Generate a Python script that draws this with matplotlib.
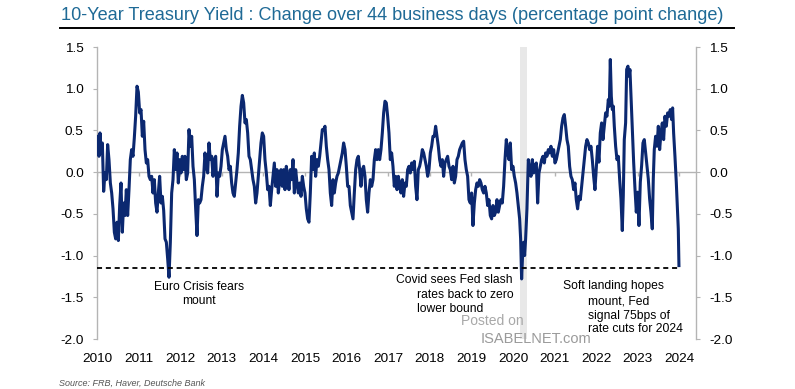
import matplotlib
matplotlib.use("Agg")
import matplotlib.pyplot as plt
from matplotlib.lines import Line2D

plt.rcParams["font.family"] = ["Liberation Sans", "DejaVu Sans"]

TITLE = "10-Year Treasury Yield : Change over 44 business days (percentage point change)"
SOURCE = "Source: FRB, Haver, Deutsche Bank"

# decimal year, 44-business-day change in the 10y yield (pp)
years = [
    2010.016, 2010.048, 2010.072, 2010.096, 2010.128, 2010.160, 2010.192, 2010.224, 2010.256, 2010.288,
    2010.321, 2010.353, 2010.385, 2010.417, 2010.449, 2010.481, 2010.513, 2010.545, 2010.577, 2010.609,
    2010.641, 2010.673, 2010.705, 2010.737, 2010.769, 2010.801, 2010.833, 2010.865, 2010.897, 2010.929,
    2010.962, 2010.994, 2011.026, 2011.058, 2011.090, 2011.122, 2011.154, 2011.186, 2011.218, 2011.250,
    2011.282, 2011.314, 2011.346, 2011.378, 2011.410, 2011.442, 2011.474, 2011.506, 2011.538, 2011.571,
    2011.603, 2011.635, 2011.667, 2011.699, 2011.731, 2011.763, 2011.795, 2011.827, 2011.859, 2011.891,
    2011.923, 2011.955, 2011.987, 2012.019, 2012.051, 2012.083, 2012.115, 2012.147, 2012.179, 2012.212,
    2012.244, 2012.276, 2012.308, 2012.340, 2012.372, 2012.404, 2012.436,
    2012.468, 2012.500, 2012.532, 2012.564, 2012.596, 2012.628, 2012.660, 2012.692, 2012.724, 2012.757,
    2012.789, 2012.821, 2012.853, 2012.885, 2012.917, 2012.949, 2012.981, 2013.013, 2013.045, 2013.077,
    2013.109, 2013.141, 2013.173, 2013.205, 2013.237, 2013.269, 2013.301, 2013.333, 2013.365, 2013.397,
    2013.429, 2013.462, 2013.494, 2013.526, 2013.558, 2013.590, 2013.622, 2013.654, 2013.686, 2013.718,
    2013.750, 2013.782, 2013.814, 2013.846, 2013.878, 2013.910, 2013.942, 2013.974, 2014.006, 2014.038,
    2014.071, 2014.103, 2014.135, 2014.167, 2014.199, 2014.231, 2014.263, 2014.295, 2014.327, 2014.359,
    2014.391, 2014.423, 2014.455, 2014.487, 2014.519, 2014.551, 2014.583, 2014.615, 2014.647, 2014.679,
    2014.712, 2014.744, 2014.776, 2014.808, 2014.840,
    2014.872, 2014.904, 2014.936, 2014.968, 2015.000, 2015.032, 2015.064, 2015.096, 2015.128, 2015.160,
    2015.192, 2015.224, 2015.256, 2015.288, 2015.321, 2015.353, 2015.385, 2015.417, 2015.449, 2015.481,
    2015.513, 2015.545, 2015.577, 2015.609, 2015.641, 2015.673, 2015.705, 2015.737, 2015.769, 2015.801,
    2015.833, 2015.865, 2015.897, 2015.929, 2015.962, 2015.994, 2016.026, 2016.058, 2016.090, 2016.122,
    2016.154, 2016.186, 2016.218, 2016.250, 2016.282, 2016.314, 2016.346, 2016.378, 2016.410, 2016.442,
    2016.474, 2016.506, 2016.538, 2016.571, 2016.603, 2016.635, 2016.667, 2016.699, 2016.731, 2016.763,
    2016.795, 2016.827, 2016.859, 2016.891, 2016.923, 2016.955, 2016.987, 2017.019, 2017.051, 2017.083,
    2017.115, 2017.147, 2017.179, 2017.212, 2017.244,
    2017.275, 2017.307, 2017.339, 2017.371, 2017.404, 2017.436, 2017.468, 2017.500, 2017.532, 2017.564,
    2017.596, 2017.628, 2017.660, 2017.692, 2017.724, 2017.756, 2017.788, 2017.821, 2017.853, 2017.885,
    2017.917, 2017.949, 2017.981, 2018.013, 2018.045, 2018.077, 2018.109, 2018.141, 2018.173, 2018.205,
    2018.237, 2018.269, 2018.301, 2018.333, 2018.365, 2018.397, 2018.429, 2018.462, 2018.494, 2018.526,
    2018.558, 2018.590, 2018.622, 2018.654, 2018.686, 2018.718, 2018.750, 2018.782, 2018.814, 2018.846,
    2018.878, 2018.910, 2018.942, 2018.974, 2019.006, 2019.038, 2019.071, 2019.103, 2019.135, 2019.167,
    2019.199, 2019.231, 2019.263, 2019.295, 2019.327, 2019.359, 2019.391, 2019.423, 2019.455, 2019.487,
    2019.519, 2019.551, 2019.583, 2019.615, 2019.647, 2019.679,
    2019.711, 2019.743, 2019.775, 2019.808, 2019.840, 2019.872, 2019.904, 2019.936, 2019.968, 2020.000,
    2020.032, 2020.064, 2020.096, 2020.128, 2020.160, 2020.184, 2020.208, 2020.234, 2020.256, 2020.280,
    2020.304, 2020.336, 2020.369, 2020.401, 2020.433, 2020.465, 2020.497, 2020.529, 2020.561, 2020.593,
    2020.625, 2020.657, 2020.689, 2020.721, 2020.753, 2020.785, 2020.817, 2020.849, 2020.881, 2020.913,
    2020.946, 2020.978, 2021.010, 2021.042, 2021.074, 2021.106, 2021.138, 2021.170, 2021.202, 2021.234,
    2021.266, 2021.298, 2021.330, 2021.362, 2021.394, 2021.426, 2021.458, 2021.490, 2021.522, 2021.554,
    2021.587, 2021.619, 2021.651, 2021.683, 2021.715, 2021.747, 2021.779, 2021.811, 2021.843, 2021.875,
    2021.907, 2021.939, 2021.971,
    2022.003, 2022.035, 2022.067, 2022.099, 2022.131, 2022.163, 2022.195, 2022.227, 2022.259, 2022.292,
    2022.316, 2022.340, 2022.364, 2022.388, 2022.412, 2022.436, 2022.468, 2022.500, 2022.532, 2022.564,
    2022.596, 2022.628, 2022.652, 2022.676, 2022.708, 2022.733, 2022.764, 2022.788, 2022.812, 2022.837,
    2022.869, 2022.901, 2022.933, 2022.965, 2022.997, 2023.029, 2023.061, 2023.093, 2023.125, 2023.157,
    2023.189, 2023.221, 2023.253, 2023.285, 2023.317, 2023.349, 2023.373, 2023.397, 2023.429, 2023.462,
    2023.494, 2023.526, 2023.558, 2023.590, 2023.622, 2023.654, 2023.686, 2023.718, 2023.750, 2023.782,
    2023.814, 2023.838, 2023.862, 2023.894, 2023.926, 2023.950, 2023.974, 2023.990,
]
change = [
    0.43, 0.19, 0.47, 0.23, 0.35, -0.23, -0.01, -0.09, 0.33, 0.15,
    -0.13, -0.25, -0.44, -0.72, -0.80, -0.60, -0.82, -0.40, -0.13, -0.72,
    -0.37, -0.52, -0.21, -0.52, -0.21, 0.15, 0.27, 0.19, 0.41, 0.67,
    1.03, 0.96, 0.71, 0.75, 0.43, 0.61, 0.27, 0.11, 0.15, -0.05,
    -0.09, -0.05, -0.25, -0.09, -0.37, -0.48, -0.25, -0.05, -0.37, -0.29,
    -0.46, -0.80, -0.84, -1.04, -1.26, -0.84, -0.25, -0.09, 0.27, 0.03,
    0.23, -0.13, 0.15, -0.01, 0.19, 0.03, 0.19, -0.09, -0.01, 0.51,
    0.31, 0.43, 0.07, -0.09, -0.44, -0.76, -0.33,
    -0.37, -0.33, -0.17, -0.05, 0.23, 0.07, -0.01, 0.35, 0.15, 0.19,
    -0.05, 0.15, 0.19, -0.29, -0.01, -0.05, 0.07, 0.27, 0.35, 0.43,
    0.27, 0.19, 0.03, 0.07, -0.13, -0.25, -0.29, -0.13, 0.03, 0.23,
    0.55, 0.79, 0.92, 0.83, 0.59, 0.63, 0.47, 0.19, 0.15, 0.03,
    -0.09, -0.17, -0.37, -0.25, -0.05, 0.15, 0.35, 0.47, 0.43, 0.15,
    -0.01, -0.21, -0.17, -0.40, -0.21, -0.05, 0.11, -0.17, 0.03, -0.25,
    -0.09, 0.03, -0.17, 0.03, -0.21, 0.07, -0.05, -0.21, 0.03, -0.09,
    0.15, -0.25, 0.03, -0.13, -0.25,
    -0.13, -0.29, -0.05, -0.17, -0.25, -0.44, -0.56, -0.60, -0.25, 0.19,
    0.03, 0.23, -0.05, 0.15, 0.07, 0.19, 0.35, 0.51, 0.51, 0.55,
    0.31, 0.15, 0.03, -0.25, -0.40, -0.09, -0.25, -0.13, -0.05, -0.01,
    0.07, 0.15, 0.23, 0.35, 0.27, 0.07, -0.17, -0.17, -0.40, -0.48,
    -0.56, -0.25, 0.03, 0.15, 0.19, 0.03, -0.17, 0.03, 0.07, -0.05,
    -0.33, -0.48, -0.25, -0.09, -0.17, -0.09, 0.15, 0.27, 0.15, 0.27,
    0.15, 0.27, 0.47, 0.71, 0.85, 0.83, 0.67, 0.47, 0.15, 0.23,
    0.07, -0.17, -0.05, -0.21, -0.05,
    -0.17, -0.25, -0.09, -0.29, -0.13, -0.17, 0.03, 0.07, -0.01, 0.11,
    0.03, 0.13, -0.17, -0.33, 0.03, 0.07, 0.15, 0.27, 0.23, 0.15,
    0.07, -0.05, 0.03, 0.23, 0.31, 0.43, 0.43, 0.55, 0.43, 0.31,
    0.15, 0.07, 0.15, -0.05, 0.11, 0.15, 0.19, 0.07, 0.03, -0.09,
    0.07, -0.13, -0.05, 0.15, 0.19, 0.27, 0.31, 0.35, 0.37, 0.15,
    0.03, -0.05, -0.33, -0.37, -0.25, -0.64, -0.37, -0.21, -0.13, -0.17,
    -0.09, -0.13, -0.21, -0.25, -0.17, -0.25, -0.40, -0.33, -0.52, -0.56,
    -0.40, -0.52, -0.48, -0.33, -0.48, -0.40,
    -0.33, -0.37, -0.17, 0.15, 0.39, 0.23, 0.15, 0.35, 0.03, 0.07,
    -0.05, -0.13, -0.25, -0.40, -0.56, -0.80, -1.28, -0.96, -0.84, -1.00,
    -0.80, -0.44, 0.15, 0.03, -0.05, 0.15, -0.01, 0.07, 0.11, -0.37,
    -0.01, 0.07, 0.15, 0.19, 0.11, 0.23, 0.19, 0.27, 0.23, 0.31,
    0.19, 0.27, 0.11, 0.15, 0.23, 0.31, 0.39, 0.55, 0.65, 0.69,
    0.55, 0.39, 0.31, 0.07, -0.05, -0.09, -0.21, -0.13, -0.33, -0.44,
    -0.29, -0.33, -0.17, -0.01, 0.15, 0.31, 0.39, 0.35, 0.27, 0.31,
    0.15, -0.05, -0.21,
    0.04, 0.31, 0.12, 0.47, 0.59, 0.39, 0.55, 0.71, 0.67, 0.87,
    0.79, 1.35, 0.91, 0.75, 0.79, 0.55, 0.31, 0.15, 0.19, -0.08,
    -0.32, -0.70, -0.28, 0.39, 0.59, 1.23, 1.27, 1.15, 1.23, 0.91,
    0.47, 0.12, -0.20, -0.48, -0.24, -0.64, -0.12, 0.08, 0.35, 0.39,
    0.23, 0.08, -0.08, -0.32, -0.48, -0.68, -0.08, 0.27, 0.43, 0.31,
    0.55, 0.27, 0.47, 0.59, 0.39, 0.67, 0.55, 0.71, 0.67, 0.75,
    0.63, 0.77, 0.47, 0.19, -0.12, -0.40, -0.68, -1.12,
]

year_ticks = list(range(2010, 2025))
y_ticks = [-2.0, -1.5, -1.0, -0.5, 0.0, 0.5, 1.0, 1.5]
covid_span = (2020.18, 2020.33)
threshold = -1.15
threshold_end = 2023.98

W, H = 795, 389
fig = plt.figure(figsize=(W / 100, H / 100), dpi=100, facecolor="white")
ax = fig.add_axes([97 / W, 1 - 339 / H, 599 / W, 292 / H])
ax.set_xlim(2010, 2024.40)
ax.set_ylim(-2.0, 1.5)

grey = "#b4b4b4"
ax.axvspan(*covid_span, color="#e8e8e8", lw=0, zorder=0)
ax.axhline(0, color=grey, lw=1, zorder=1)
ax.vlines(year_ticks, -0.05, 0, color=grey, lw=1, zorder=1)
ax.plot(years, change, color="#0b2870", lw=2.2, zorder=3)
ax.hlines(threshold, 2010, threshold_end, colors="black", linestyles=(0, (2.8, 2.1)), lw=1.3, zorder=4)

for side in ("top", "bottom"):
    ax.spines[side].set_visible(False)
for side in ("left", "right"):
    ax.spines[side].set_color(grey)
    ax.spines[side].set_linewidth(1)

ax.set_yticks(y_ticks)
ax.set_yticklabels([f"{v:.1f}" for v in y_ticks])
ax.tick_params(axis="y", left=True, right=True, labelleft=True, labelright=True,
               length=3, color=grey, labelsize=9.7, pad=6.5, labelcolor="black")
ax.set_xticks(year_ticks)
ax.set_xticklabels([str(y) for y in year_ticks])
ax.tick_params(axis="x", length=0, labelsize=9.7, pad=10, labelcolor="black")

# annotations
ann = dict(fontsize=8.7, color="black", va="center")
ax.text(2012.45, -1.46, "Euro Crisis fears\nmount", ha="center", multialignment="center", **ann)
ax.text(2019.98, -1.29, "Covid sees Fed slash", ha="right", **ann)
ax.text(2017.69, -1.556, "rates back to zero\nlower bound", ha="left", **ann)
ax.text(2021.20, -1.37, "Soft landing hopes", ha="left", **ann)
ax.text(2021.80, -1.72, "mount, Fed\nsignal 75bps of\nrate cuts for 2024", ha="left", **ann)

# title block
fig.text(61 / W, 1 - 20 / H, TITLE, color="#1f6a96", fontsize=13.05, va="baseline", ha="left")
fig.add_artist(Line2D([60 / W, 734 / W], [1 - 27.5 / H] * 2, color="black", lw=1.4))

# watermark
fig.text(492 / W, 1 - 321 / H, "Posted on", color="#a8a8a8", fontsize=10, ha="center", va="center")
fig.text(536 / W, 1 - 339 / H, "ISABELNET.com", color="#9a9a9a", fontsize=10.5, ha="center", va="center")

fig.text(59 / W, 1 - 383 / H, SOURCE, color="#555555", fontsize=6.5, style="italic", ha="left", va="center")

fig.savefig("out.png", dpi=100, facecolor="white")
